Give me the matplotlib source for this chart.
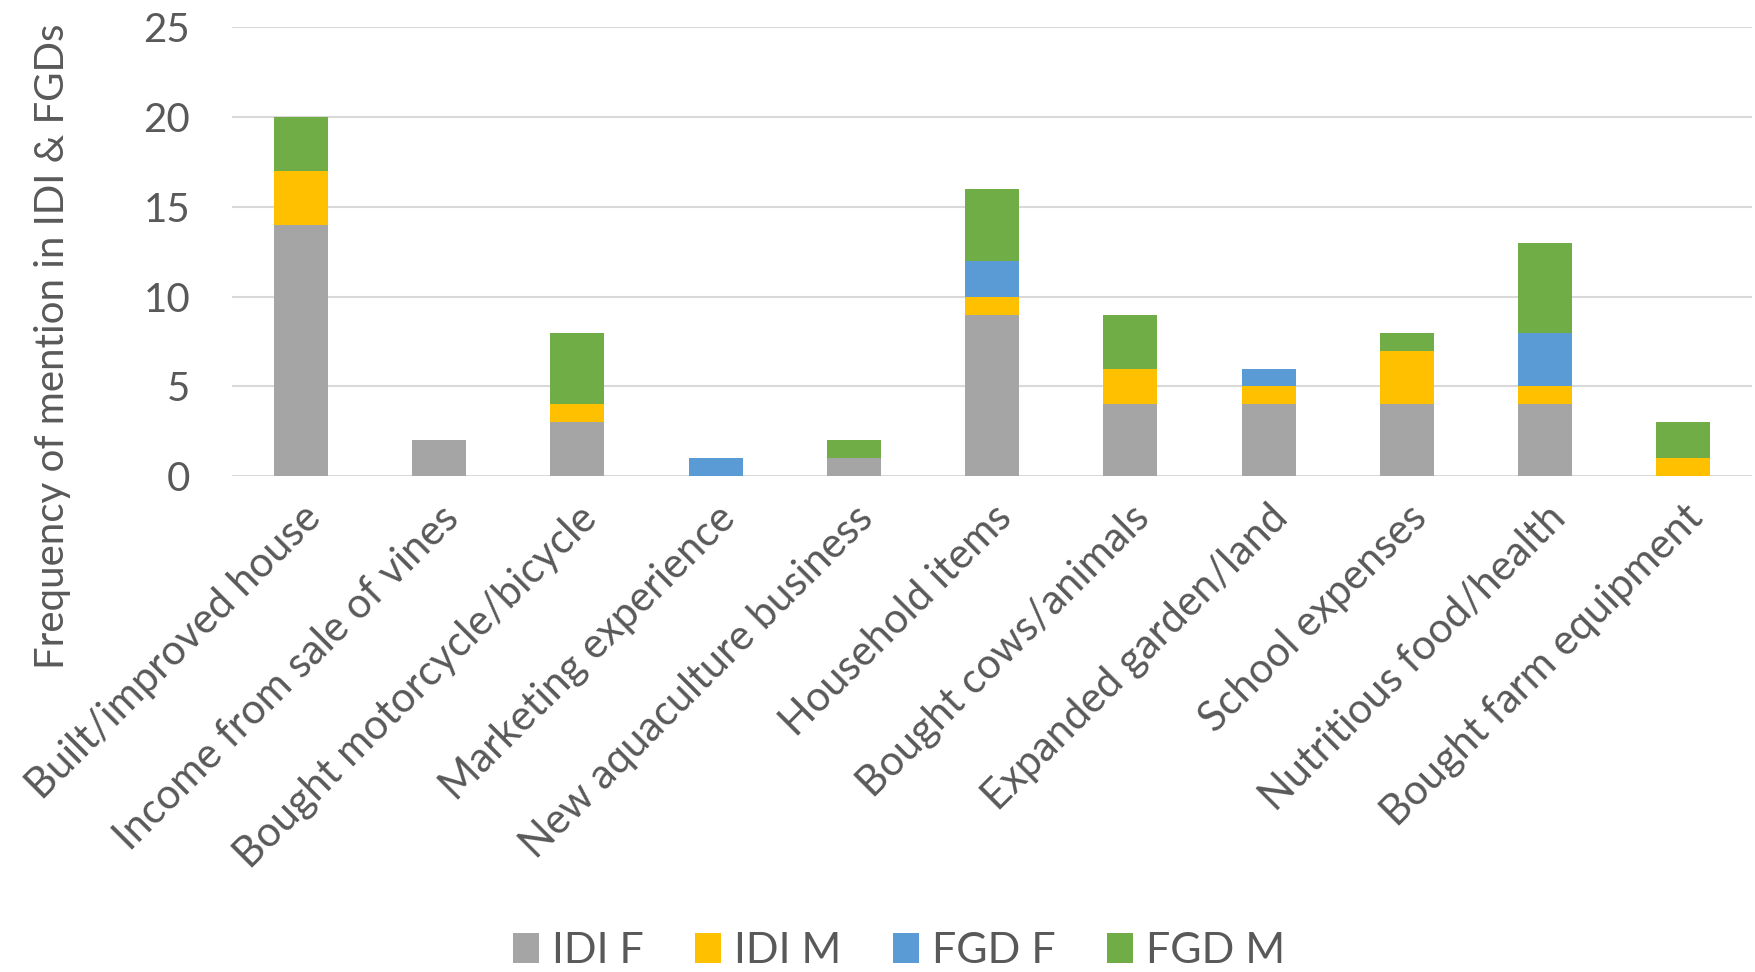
import matplotlib
matplotlib.use("Agg")
import matplotlib.pyplot as plt
import numpy as np

plt.rcParams['font.family'] = ['Lato', 'DejaVu Sans']

categories = [
    "Built/improved house", "Income from sale of vines", "Bought motorcycle/bicycle",
    "Marketing experience", "New aquaculture business", "Household items",
    "Bought cows/animals", "Expanded garden/land", "School expenses",
    "Nutritious food/health", "Bought farm equipment",
]
idi_f = [14, 2, 3, 0, 1, 9, 4, 4, 4, 4, 0]
idi_m = [3, 0, 1, 0, 0, 1, 2, 1, 3, 1, 1]
fgd_f = [0, 0, 0, 1, 0, 2, 0, 1, 0, 3, 0]
fgd_m = [3, 0, 4, 0, 1, 4, 3, 0, 1, 5, 2]

series = [("IDI F", idi_f, "#A5A5A5"), ("IDI M", idi_m, "#FFC000"),
          ("FGD F", fgd_f, "#5B9BD5"), ("FGD M", fgd_m, "#70AD47")]

text_color = "#595959"
fig = plt.figure(figsize=(17.56, 9.72), dpi=100)
ax = fig.add_axes([0.132, 0.51, 0.866, 0.462])

x = np.arange(len(categories))
bottom = np.zeros(len(categories))
for name, vals, col in series:
    v = np.array(vals, dtype=float)
    ax.bar(x, v, width=0.39, bottom=bottom, color=col, label=name, zorder=3)
    bottom += v

ax.set_xlim(-0.5, len(categories) - 0.5)
ax.set_ylim(0, 25)
ax.set_yticks(range(0, 26, 5))
ax.yaxis.grid(True, color="#D9D9D9", linewidth=1.5, zorder=0)
for s in ax.spines.values():
    s.set_visible(False)
ax.tick_params(axis='both', length=0, labelsize=29, colors=text_color)
ax.tick_params(axis='y', pad=30)
ax.set_xticks(x)
ax.set_xticklabels(categories, rotation=45, ha='right', va='top',
                   rotation_mode='anchor', fontsize=30, color=text_color)
ax.tick_params(axis='x', pad=16)
ax.set_ylabel("Frequency of mention in IDI & FGDs", fontsize=29, color=text_color)
ax.yaxis.set_label_coords(-0.106, 0.29)

handles, labels = ax.get_legend_handles_labels()
fig.legend(handles, labels, loc='lower center', bbox_to_anchor=(0.512, -0.038), ncol=4,
           frameon=False, fontsize=31, handlelength=0.6, handleheight=0.7,
           handletextpad=0.3, columnspacing=1.2, labelcolor=text_color)

fig.savefig("out.png", dpi=100)
